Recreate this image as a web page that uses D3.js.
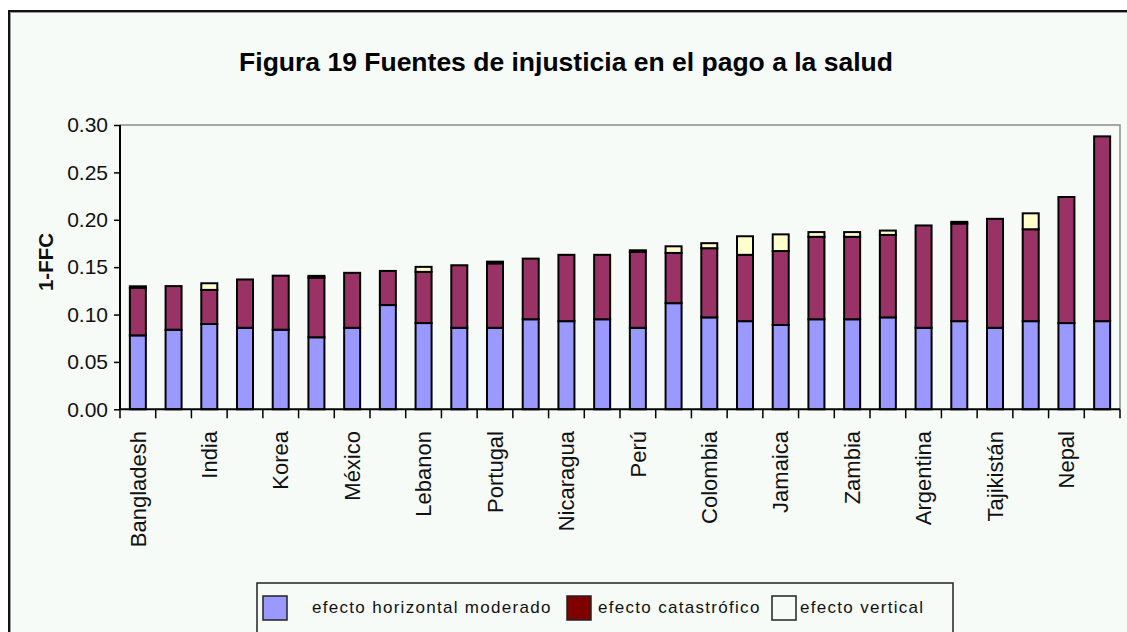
<!DOCTYPE html>
<html><head><meta charset="utf-8">
<script src="https://cdn.jsdelivr.net/npm/d3@7"></script>
<style>
html,body{margin:0;padding:0;background:#fff;}
svg{display:block;font-family:"Liberation Sans",Arial,sans-serif;}
</style></head>
<body>
<svg id="chart" width="1127" height="632"></svg>
<script>
// ---- data ----
const title = "Figura 19 Fuentes de injusticia en el pago a la salud";
const yLabel = "1-FFC";
const categories = ["Bangladesh","","India","","Korea","","México","","Lebanon","","Portugal","","Nicaragua","",
  "Perú","","Colombia","","Jamaica","","Zambia","","Argentina","","Tajikistán","","Nepal",""];
const horizontal = [0.078,0.084,0.090,0.086,0.084,0.076,0.086,0.110,0.091,0.086,0.086,0.095,0.093,0.095,
  0.086,0.112,0.097,0.093,0.089,0.095,0.095,0.097,0.086,0.093,0.086,0.093,0.091,0.093];
const catastrofico = [0.050,0.046,0.036,0.051,0.057,0.063,0.058,0.036,0.054,0.066,0.068,0.064,0.070,0.068,
  0.080,0.053,0.073,0.070,0.078,0.087,0.087,0.087,0.108,0.103,0.115,0.097,0.133,0.195];
const vertical = [0.0018,0,0.007,0,0,0.0018,0,0,0.0053,0,0.0018,0,0,0,
  0.0018,0.007,0.0053,0.0196,0.0176,0.005,0.005,0.0046,0,0.0018,0,0.0168,0,0];
const seriesNames = ["efecto horizontal moderado","efecto catastrófico","efecto vertical"];
const barColors = ["#9999ff","#993366","#ffffcc"];
const legendColors = ["#9999ff","#800000","#f6fbf8"];
const yTicks = [0,0.05,0.10,0.15,0.20,0.25,0.30];

(function(){
const svg = d3.select("#chart");
const bg = "#f6fbf8";
svg.append("rect").attr("x",0).attr("y",0).attr("width",1127).attr("height",632).attr("fill","#fff");
svg.append("rect").attr("x",9).attr("y",11).attr("width",1140).attr("height",640)
  .attr("fill",bg).attr("stroke","#111").attr("stroke-width",2);
svg.append("rect").attr("x",10.5).attr("y",12.5).attr("width",1140).attr("height",640)
  .attr("fill","none").attr("stroke","#999").attr("stroke-width",1);

const pL = 120, pR = 1120, pT = 125, pB = 409.3;
const x = d3.scaleBand().domain(d3.range(categories.length)).range([pL,pR]).paddingInner(0).paddingOuter(0);
const y = d3.scaleLinear().domain([0,0.30]).range([pB,pT]);

svg.append("text").attr("x",566).attr("y",71).attr("text-anchor","middle")
  .attr("font-weight","bold").attr("font-size",26.5).attr("fill","#000").text(title);

svg.append("path").attr("d",`M${pL},${pT}H${pR}V${pB}`).attr("fill","none")
  .attr("stroke","#8c8c8c").attr("stroke-width",1.5);

const stack = d3.stack().keys([0,1,2]).value((d,k)=>d[k]);
const rows = categories.map((c,i)=>[horizontal[i],catastrofico[i],vertical[i]]);
const stacked = stack(rows);
const bw = 16;
stacked.forEach((layer,k)=>{
  svg.append("g").selectAll("rect").data(layer.map((d,i)=>({d,i})).filter(o=>o.d[1]-o.d[0]>0)).join("rect")
    .attr("x",o=>x(o.i)+x.bandwidth()/2-bw/2)
    .attr("width",bw)
    .attr("y",o=>y(o.d[1]))
    .attr("height",o=>y(o.d[0])-y(o.d[1]))
    .attr("fill",barColors[k]).attr("stroke","#000").attr("stroke-width",2);
});

const yAxis = d3.axisLeft(y).tickValues(yTicks).tickFormat(d3.format(".2f")).tickSize(6).tickPadding(6);
const gy = svg.append("g").attr("transform",`translate(${pL},0)`).call(yAxis);
gy.select(".domain").attr("stroke","#000").attr("stroke-width",2).attr("d",`M0,${pT}V${pB}`);
gy.selectAll(".tick line").attr("stroke","#000").attr("stroke-width",1.5);
gy.selectAll(".tick text").attr("font-size",21).attr("fill","#111").attr("font-family","Liberation Sans, Arial, sans-serif");

const boundaries = d3.range(categories.length+1).map(i=>pL + i*x.step());
svg.append("line").attr("x1",pL).attr("x2",pR).attr("y1",pB).attr("y2",pB)
  .attr("stroke","#000").attr("stroke-width",2);
svg.append("g").selectAll("line").data(boundaries).join("line")
  .attr("x1",d=>d).attr("x2",d=>d).attr("y1",pB).attr("y2",pB+9)
  .attr("stroke","#000").attr("stroke-width",1.5);

svg.append("g").selectAll("text").data(categories.map((c,i)=>({c,i})).filter(o=>o.c)).join("text")
  .attr("transform",o=>`translate(${x(o.i)+x.bandwidth()/2},431) rotate(-90)`)
  .attr("text-anchor","end").attr("dy","0.35em")
  .attr("font-size",22).attr("fill","#111").text(o=>o.c);

svg.append("text").attr("transform","translate(53,262) rotate(-90)")
  .attr("text-anchor","middle").attr("font-weight","bold").attr("font-size",20.5).attr("fill","#111").text(yLabel);

svg.append("rect").attr("x",257).attr("y",583).attr("width",696).attr("height",60)
  .attr("fill",bg).attr("stroke","#222").attr("stroke-width",1.5);
const legX = [263,567,772];
const legTX = [312,598,800];
seriesNames.forEach((n,k)=>{
  svg.append("rect").attr("x",legX[k]).attr("y",596).attr("width",24).attr("height",24)
    .attr("fill",legendColors[k]).attr("stroke","#222").attr("stroke-width",1.5);
  svg.append("text").attr("x",legTX[k]).attr("y",613).attr("font-size",17).attr("letter-spacing",1.3)
    .attr("fill","#111").text(n);
});
})();
</script>
</body></html>
